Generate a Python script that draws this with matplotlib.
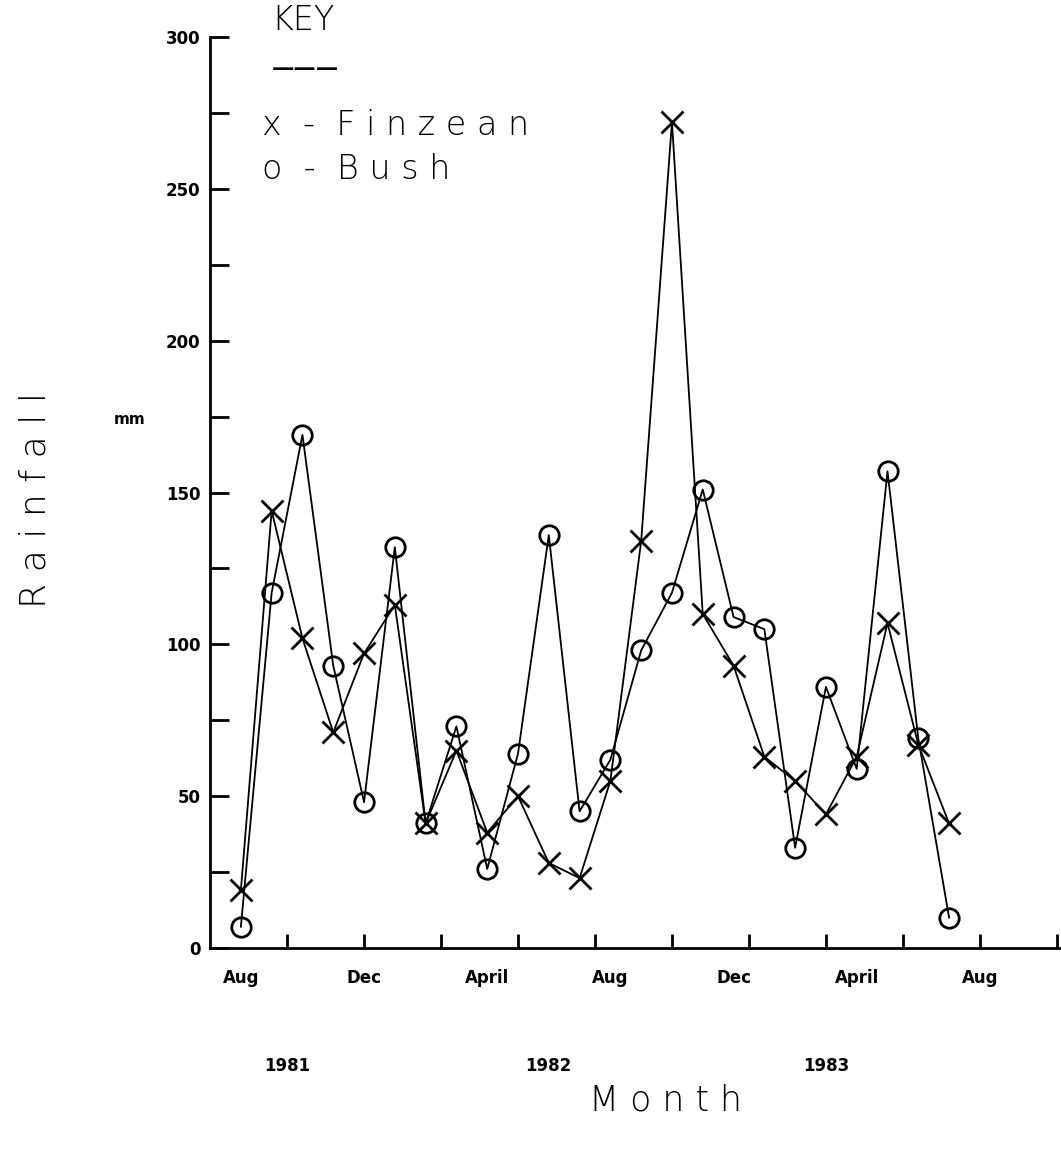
import matplotlib.pyplot as plt
import numpy as np

# monthly rainfall, Aug 1981 .. Jul 1983
months = np.arange(24)
finzean = [19, 144, 102, 71, 97, 113, 41, 65, 38, 50, 28, 23,
           55, 134, 272, 110, 93, 63, 55, 44, 63, 107, 67, 41]
bush = [7, 117, 169, 93, 48, 132, 41, 73, 26, 64, 136, 45,
        62, 98, 117, 151, 109, 105, 33, 86, 59, 157, 69, 10]

month_pos = [0, 4, 8, 12, 16, 20, 24]
month_labels = ['Aug', 'Dec', 'April', 'Aug', 'Dec', 'April', 'Aug']
year_pos = [1.5, 10, 19]
year_labels = ['1981', '1982', '1983']

fig = plt.figure(figsize=(10.61, 11.5), dpi=100)
ax = fig.add_axes([0.198, 0.1757, 0.801, 0.792])

ax.plot(months, finzean, color='black', lw=1.3, marker='x', ms=16, mew=2)
ax.plot(months, bush, color='black', lw=1.3, marker='o', ms=14, mew=2,
        mfc='none')

ax.set_xlim(-1, 26.6)
ax.set_ylim(0, 300)
for s in ['top', 'right']:
    ax.spines[s].set_visible(False)
ax.spines['left'].set_linewidth(2)
ax.spines['bottom'].set_linewidth(2)

ax.set_yticks(range(0, 301, 50))
ax.set_yticks(range(25, 300, 50), minor=True)
ax.set_xticks(np.arange(1.5, 26.6, 2.5))
ax.set_xticklabels([])
ax.tick_params(axis='y', which='both', direction='in', length=14, width=2,
               pad=7, labelsize=12)
ax.tick_params(axis='x', direction='in', length=10, width=2)
for t in ax.get_yticklabels():
    t.set_fontweight('bold')

for p, lab in zip(month_pos, month_labels):
    ax.text(p, -7, lab, ha='center', va='top', fontsize=12,
            fontweight='bold')
for p, lab in zip(year_pos, year_labels):
    ax.text(p, -36, lab, ha='center', va='top', fontsize=12,
            fontweight='bold')

ax.text(-3.6, 174, 'mm', ha='center', va='center', fontsize=11,
        fontweight='bold')

fig.text(0.033, 0.565, 'R a i n f a l l', rotation=90, ha='center',
         va='center', fontsize=26, fontweight='light')
fig.text(0.627, 0.043, 'M o n t h', ha='center', va='center',
         fontsize=25, fontweight='light')

# key
ax.text(1.0, 305.5, 'KEY', ha='left', va='center', fontsize=24,
        fontweight='light')
ax.text(1.0, 289.5, '\u2014\u2014\u2014', ha='left', va='center',
        fontsize=16, fontweight='bold')
ax.text(0.7, 271, 'x  -  F i n z e a n', ha='left', va='center',
        fontsize=24, fontweight='light')
ax.text(0.7, 256.5, 'o  -  B u s h', ha='left', va='center', fontsize=24,
        fontweight='light')

fig.savefig('out.png', dpi=100)
